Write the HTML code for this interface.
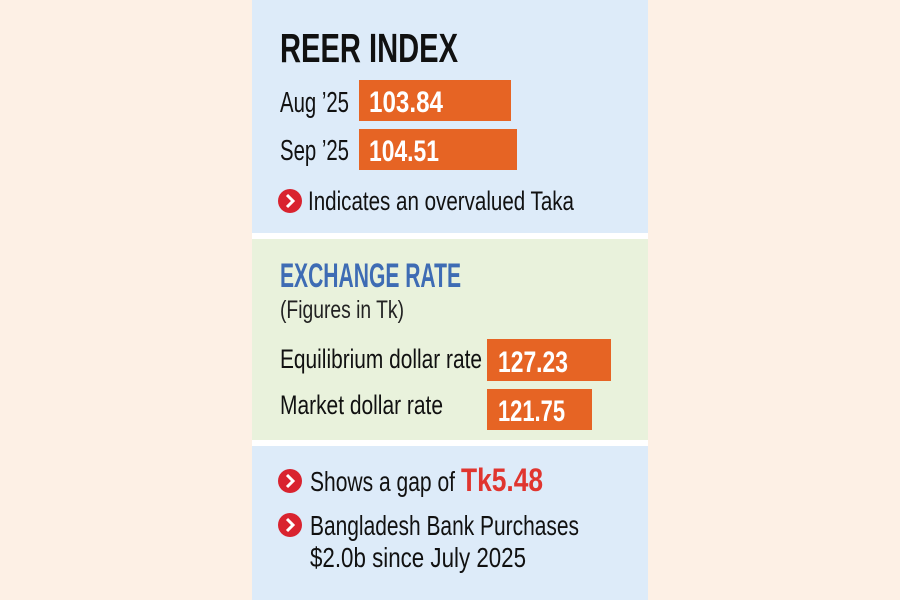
<!DOCTYPE html>
<html><head><meta charset="utf-8"><style>
html,body{margin:0;padding:0;background:#fdf0e5;}
svg{display:block}
</style></head><body>
<svg width="900" height="600" viewBox="0 0 900 600" xmlns="http://www.w3.org/2000/svg" font-family="Liberation Sans, sans-serif">
<rect x="0" y="0" width="900" height="600" fill="#fdf0e5"/>
<rect x="252" y="0" width="396" height="600" fill="#ffffff"/>
<rect x="252" y="0" width="396" height="233" fill="#ddebf9"/>
<rect x="252" y="239" width="396" height="201" fill="#e9f2dc"/>
<rect x="252" y="446" width="396" height="154" fill="#ddebf9"/>

<text x="280" y="62" font-size="41" font-weight="bold" fill="#111" textLength="178" lengthAdjust="spacingAndGlyphs">REER INDEX</text>

<text x="280" y="112" font-size="29" fill="#111" textLength="69" lengthAdjust="spacingAndGlyphs">Aug ’25</text>
<rect x="359" y="80" width="152" height="41" fill="#e66424"/>
<text x="369" y="112" font-size="30" font-weight="bold" fill="#fff" textLength="74" lengthAdjust="spacingAndGlyphs">103.84</text>

<text x="280" y="160" font-size="29" fill="#111" textLength="69" lengthAdjust="spacingAndGlyphs">Sep ’25</text>
<rect x="359" y="129" width="158" height="41" fill="#e66424"/>
<text x="369" y="161" font-size="30" font-weight="bold" fill="#fff" textLength="70" lengthAdjust="spacingAndGlyphs">104.51</text>

<circle cx="290" cy="201" r="12" fill="#d9232f"/>
<path d="M287 195 L293 201 L287 207" stroke="#fff" stroke-width="3" fill="none"/>
<text x="308" y="210" font-size="27" fill="#111" textLength="266" lengthAdjust="spacingAndGlyphs">Indicates an overvalued Taka</text>

<text x="280" y="287" font-size="34" font-weight="bold" fill="#3e6cb4" textLength="181" lengthAdjust="spacingAndGlyphs">EXCHANGE RATE</text>
<text x="280" y="318" font-size="25" fill="#222" textLength="124" lengthAdjust="spacingAndGlyphs">(Figures in Tk)</text>

<text x="280" y="368" font-size="27" fill="#111" textLength="202" lengthAdjust="spacingAndGlyphs">Equilibrium dollar rate</text>
<rect x="487" y="339" width="124" height="42" fill="#e66424"/>
<text x="498" y="372" font-size="30" font-weight="bold" fill="#fff" textLength="70" lengthAdjust="spacingAndGlyphs">127.23</text>

<text x="280" y="414" font-size="27" fill="#111" textLength="163" lengthAdjust="spacingAndGlyphs">Market dollar rate</text>
<rect x="487" y="389" width="105" height="41" fill="#e66424"/>
<text x="498" y="421" font-size="30" font-weight="bold" fill="#fff" textLength="67" lengthAdjust="spacingAndGlyphs">121.75</text>

<circle cx="290" cy="481" r="12" fill="#d9232f"/>
<path d="M287 475 L293 481 L287 487" stroke="#fff" stroke-width="3" fill="none"/>
<text x="310" y="491" font-size="28" fill="#111" textLength="145" lengthAdjust="spacingAndGlyphs">Shows a gap of</text>
<text x="461" y="491" font-size="32" font-weight="bold" fill="#e0352f" textLength="82" lengthAdjust="spacingAndGlyphs">Tk5.48</text>

<circle cx="290" cy="525" r="12" fill="#d9232f"/>
<path d="M287 519 L293 525 L287 531" stroke="#fff" stroke-width="3" fill="none"/>
<text x="310" y="535" font-size="28" fill="#111" textLength="269" lengthAdjust="spacingAndGlyphs">Bangladesh Bank Purchases</text>
<text x="310" y="567" font-size="28" fill="#111" textLength="216" lengthAdjust="spacingAndGlyphs">$2.0b since July 2025</text>
</svg>
</body></html>
